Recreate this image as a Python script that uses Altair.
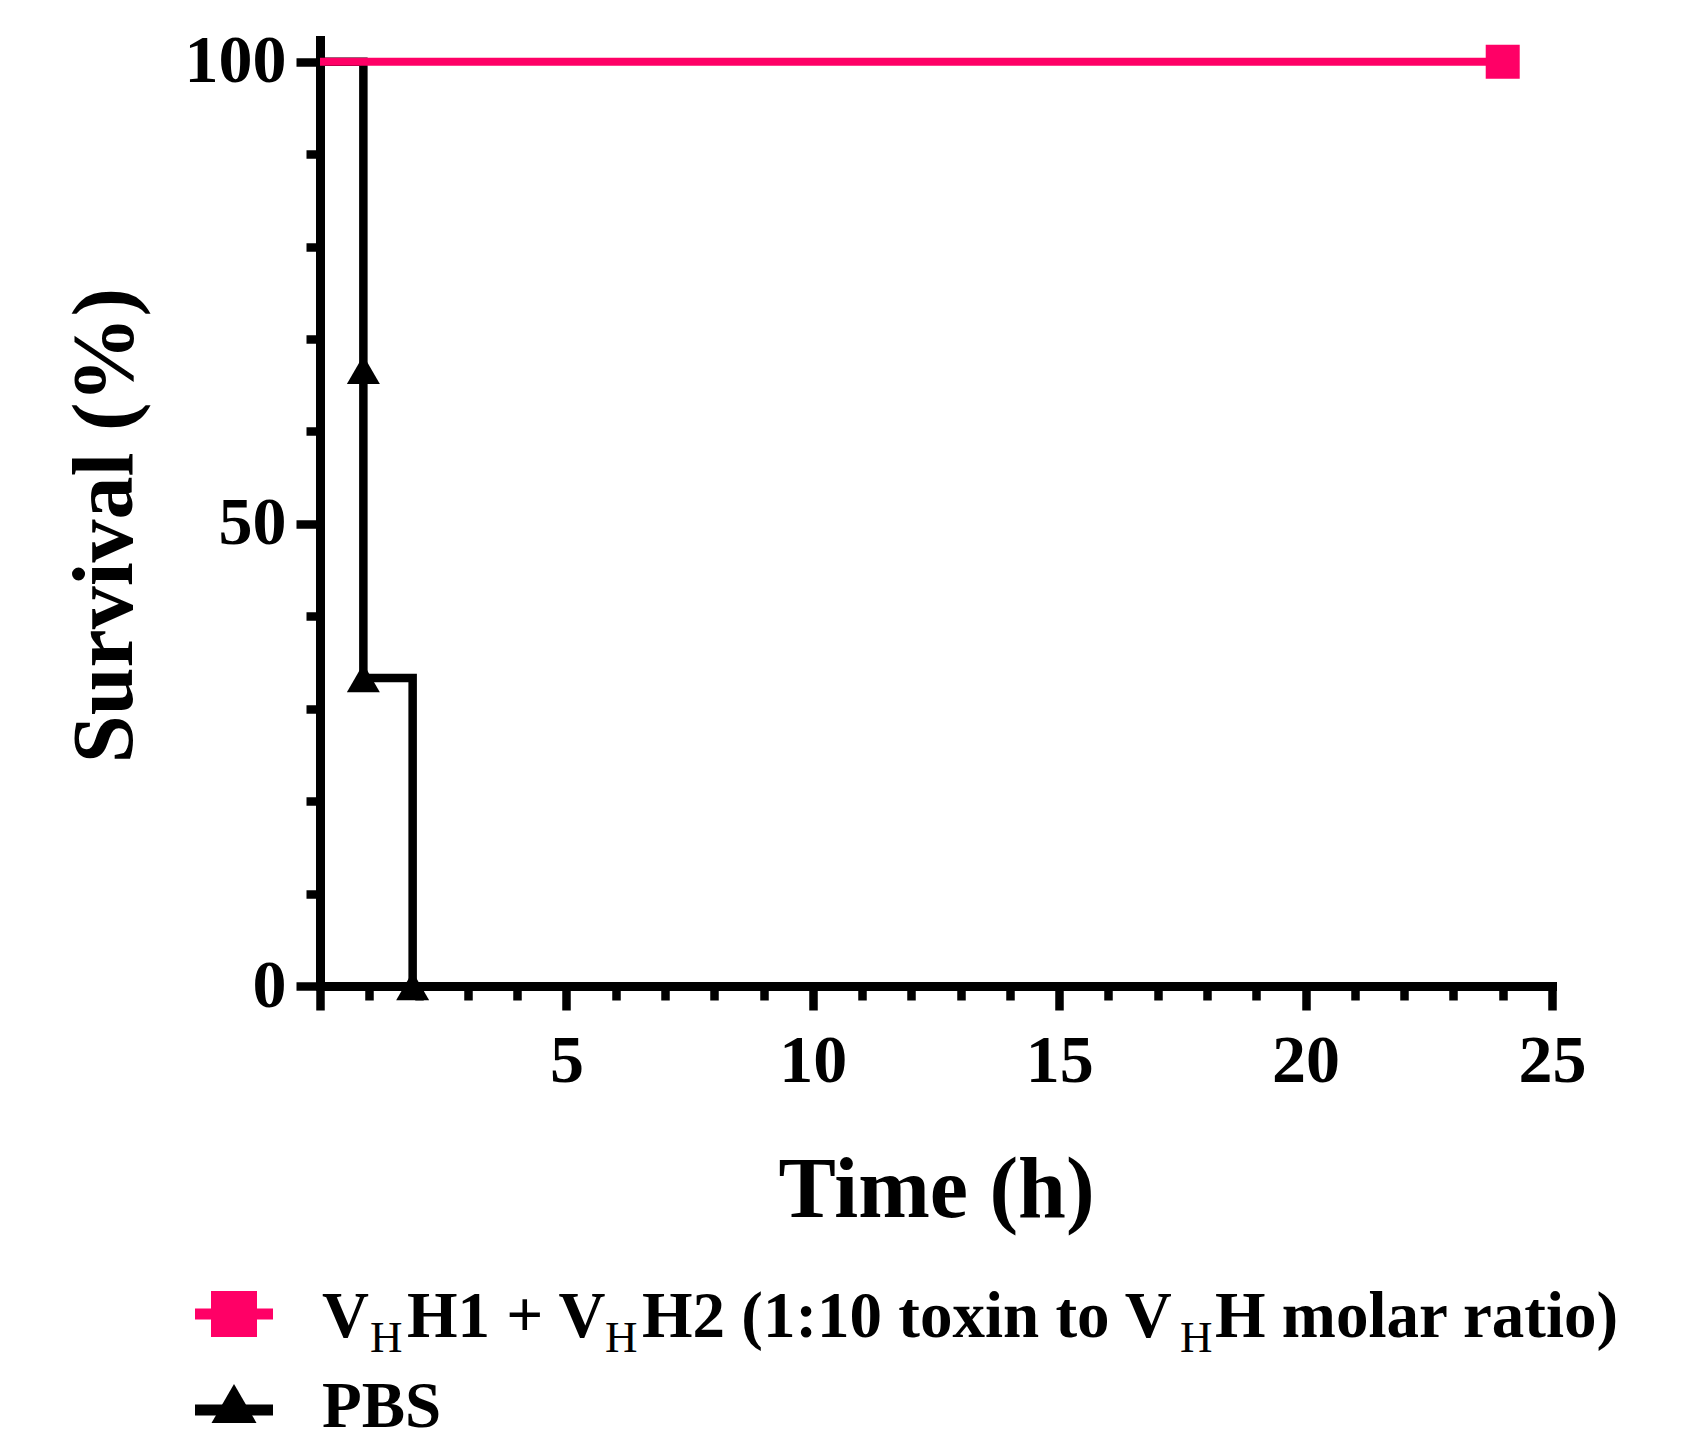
import altair as alt
import pandas as pd

# ---- data ----
pbs_time = [0, 0.88, 0.88, 1.88]
pbs_surv = [100, 66.67, 33.33, 0]
vhh_time = [0, 24]
vhh_surv = [100, 100]
x_tick_values = list(range(0, 26))
y_tick_values = list(range(0, 101, 10))
series_names = ["VHH1 + VHH2 (1:10 toxin to VHH molar ratio)", "PBS"]

# ---- styles ----
PINK = "#ff0066"
BLACK = "#000000"
FONT = "Liberation Serif"

df_pbs = pd.DataFrame({"t": pbs_time, "s": pbs_surv, "o": list(range(len(pbs_time)))})
df_pbs_pts = pd.DataFrame({"t": pbs_time[1:], "s": pbs_surv[1:]})
df_vhh = pd.DataFrame({"t": vhh_time, "s": vhh_surv, "o": list(range(len(vhh_time)))})
df_vhh_pts = pd.DataFrame({"t": vhh_time[-1:], "s": vhh_surv[-1:]})

xscale = alt.Scale(domain=[0, 25], nice=False, zero=False)
yscale = alt.Scale(domain=[0, 102.35], nice=False, zero=False)

xaxis = alt.Axis(
    values=x_tick_values,
    labelExpr="(datum.value % 5 === 0 && datum.value > 0) ? datum.label : ''",
    tickSize={"condition": {"test": "datum.value % 5 === 0", "value": 24}, "value": 14},
    title="Time (h)",
    titleY=230,
    titleBaseline="alphabetic",
    labelPadding=17,
    labelFlush=False,
    labelOverlap=False,
)
yaxis = alt.Axis(
    values=y_tick_values,
    labelExpr="(datum.value % 50 === 0) ? datum.label : ''",
    tickSize={"condition": {"test": "datum.value % 50 === 0", "value": 24}, "value": 14},
    title="Survival (%)",
    titleX=-189,
    titleY=485,
    titleAngle=270,
    titleAlign="center",
    titleBaseline="alphabetic",
    labelPadding=10,
    labelBaseline="middle",
    labelFlush=False,
    labelOverlap=False,
)

X = alt.X("t:Q", scale=xscale, axis=xaxis)
Y = alt.Y("s:Q", scale=yscale, axis=yaxis)

pbs_line = alt.Chart(df_pbs).mark_line(
    color=BLACK, strokeWidth=8.5, interpolate="step-after", strokeJoin="miter"
).encode(x=X, y=Y, order="o:Q")

pbs_pts = alt.Chart(df_pbs_pts).mark_point(
    shape="triangle-up", filled=True, size=1089, color=BLACK, opacity=1
).encode(x=X, y=Y)

vhh_line = alt.Chart(df_vhh).mark_line(color=PINK, strokeWidth=8).encode(x=X, y=Y, order="o:Q")

vhh_pts = alt.Chart(df_vhh_pts).mark_point(
    shape="square", filled=True, size=1156, color=PINK, opacity=1
).encode(x=X, y=Y)

# ---- manual legend (needed for subscripts) ----
leg_df = pd.DataFrame({"name": series_names[:1]})
leg_layers = []
# row 1 symbol
leg_layers.append(alt.Chart(leg_df).mark_rule(color=PINK, strokeWidth=11).encode(
    x=alt.value(-125), x2=alt.value(-47), y=alt.value(1274)))
leg_layers.append(alt.Chart(leg_df).mark_point(shape="square", filled=True, size=2116, color=PINK, opacity=1).encode(
    x=alt.value(-86), y=alt.value(1274)))
# row 2 symbol
leg_layers.append(alt.Chart(leg_df).mark_rule(color=BLACK, strokeWidth=11).encode(
    x=alt.value(-125), x2=alt.value(-47), y=alt.value(1370)))
leg_layers.append(alt.Chart(leg_df).mark_point(shape="triangle", filled=True, size=2025, color=BLACK, opacity=1).encode(
    x=alt.value(-86), y=alt.value(1370)))

# row 1 text pieces: (text, x, is_subscript)
row1 = [("V", 2, False), ("H", 50, True), ("H1 + V", 87, False), ("H", 285, True),
        ("H2 (1:10 toxin to V", 322, False), ("H", 860, True), ("H molar ratio)", 895, False)]
for txt, px, sub in row1:
    if sub:
        m = alt.Chart(leg_df).mark_text(text=txt, font=FONT, fontSize=45, fontWeight="normal",
                                        align="left", baseline="alphabetic", color=BLACK)
        leg_layers.append(m.encode(x=alt.value(px), y=alt.value(1312)))
    else:
        m = alt.Chart(leg_df).mark_text(text=txt, font=FONT, fontSize=65, fontWeight="bold",
                                        align="left", baseline="alphabetic", color=BLACK)
        leg_layers.append(m.encode(x=alt.value(px), y=alt.value(1297)))
leg_layers.append(alt.Chart(leg_df).mark_text(text=series_names[1], font=FONT, fontSize=65, fontWeight="bold",
                                              align="left", baseline="alphabetic", color=BLACK).encode(
    x=alt.value(2), y=alt.value(1387)))

chart = alt.layer(pbs_line, pbs_pts, vhh_line, vhh_pts, *leg_layers).properties(
    width=1232,
    height=946,
    padding={"left": 312, "top": 32, "right": 125, "bottom": 445},
    autosize=alt.AutoSizeParams(type="none"),
).configure_view(stroke=None).configure_axis(
    grid=False,
    domainColor=BLACK,
    domainWidth=9,
    domainCap="square",
    tickColor=BLACK,
    tickWidth=8.5,
    labelFont=FONT,
    labelFontSize=68,
    labelFontWeight="bold",
    labelColor=BLACK,
    titleFont=FONT,
    titleFontSize=86,
    titleFontWeight="bold",
    titleColor=BLACK,
)

chart.save("out.html", embed_options={"renderer": "svg", "actions": False})
